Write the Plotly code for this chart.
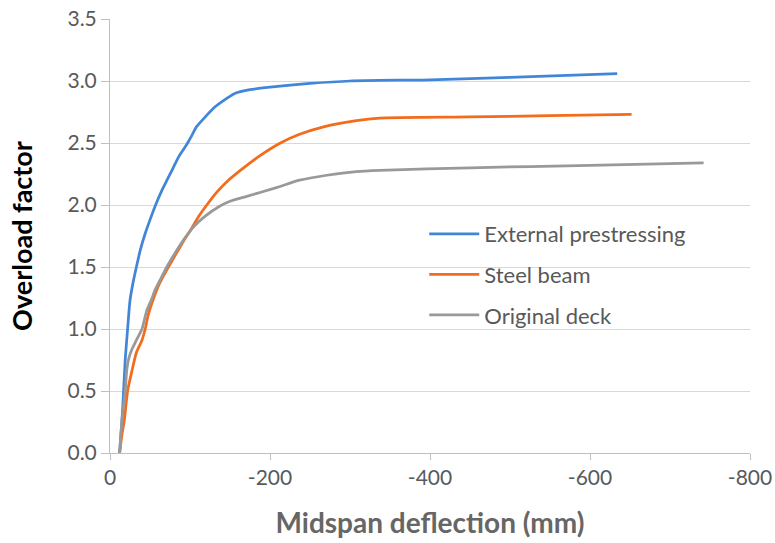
import plotly.graph_objects as go

# Load-deflection curves (deflection in mm, downward negative)
ext_x = [-12, -15, -17, -19, -22, -25, -29, -33, -38, -44, -50, -57, -65, -72, -79, -86, -92,
         -97, -103, -108, -119, -131, -146, -156, -175, -200, -250, -300, -400, -500, -634]
ext_y = [0.0, 0.27, 0.5, 0.75, 1.0, 1.23, 1.38, 1.5, 1.64, 1.77, 1.88, 2.0, 2.12, 2.21, 2.3, 2.39, 2.45,
         2.5, 2.57, 2.63, 2.71, 2.79, 2.86, 2.9, 2.93, 2.95, 2.98, 3.0, 3.01, 3.03, 3.06]

steel_x = [-12, -15, -18, -22, -27, -33, -40, -44, -48, -53, -60, -67, -73, -82, -92, -102, -110, -121,
           -133, -148, -167, -188, -213, -237, -267, -308, -337, -450, -550, -652]
steel_y = [0.0, 0.15, 0.27, 0.5, 0.65, 0.81, 0.91, 1.0, 1.12, 1.22, 1.34, 1.43, 1.5, 1.6, 1.71, 1.81, 1.9, 2.0,
           2.1, 2.2, 2.3, 2.4, 2.5, 2.57, 2.63, 2.68, 2.7, 2.71, 2.72, 2.73]

orig_x = [-12, -15, -19, -21, -23, -27, -33, -40, -46, -52, -56, -63, -71, -81, -92, -104, -119, -137,
          -150, -171, -208, -237, -271, -308, -337, -450, -600, -742]
orig_y = [0.0, 0.27, 0.5, 0.67, 0.75, 0.83, 0.91, 1.0, 1.15, 1.24, 1.31, 1.4, 1.5, 1.61, 1.72, 1.82, 1.91, 1.99,
          2.03, 2.07, 2.14, 2.2, 2.24, 2.27, 2.28, 2.3, 2.32, 2.34]

x_ticks = [0, -200, -400, -600, -800]
x_tick_labels = ["0", "-200", "-400", "-600", "-800"]

series = [
    ("External prestressing", ext_x, ext_y, "#4286d8"),
    ("Steel beam", steel_x, steel_y, "#f36c1c"),
    ("Original deck", orig_x, orig_y, "#999999"),
]

fig = go.Figure()
for name, xs, ys, color in series:
    fig.add_trace(go.Scatter(
        x=xs, y=ys, name=name, mode="lines", legendgroup=name,
        line=dict(color=color, width=2.75, shape="spline", smoothing=0.6),
    ))

font_family = "Lato"
fig.update_layout(
    width=775, height=543,
    margin=dict(l=110, r=25, t=19, b=90, autoexpand=False),
    paper_bgcolor="white", plot_bgcolor="white",
    font=dict(family=font_family, color="#595959"),
    showlegend=True,
    legend=dict(
        x=0.491, y=0.553, xanchor="left", yanchor="top",
        bgcolor="rgba(0,0,0,0)", font=dict(size=22, color="#595959"),
        traceorder="grouped", tracegroupgap=9, itemwidth=50,
    ),
)
fig.update_xaxes(
    range=[0, -800], tickvals=x_ticks, ticktext=x_tick_labels,
    showgrid=False, zeroline=False, automargin=False,
    showline=True, linecolor="#bfbfbf", linewidth=1,
    ticks="outside", ticklen=6, tickcolor="#bfbfbf",
    tickfont=dict(size=21, color="#595959"),
    title=dict(text="<b>Midspan deflection (mm)</b>", font=dict(size=28, color="#666666"), standoff=25),
)
fig.update_yaxes(
    range=[0, 3.5], dtick=0.5, tickformat=".1f",
    showgrid=True, gridcolor="#d9d9d9", gridwidth=1, zeroline=False, automargin=False,
    showline=True, linecolor="#bfbfbf", linewidth=1,
    ticks="outside", ticklen=8, tickcolor="#bfbfbf",
    tickfont=dict(size=21, color="#595959"),
    title=dict(text="<b>Overload factor</b>", font=dict(size=27, color="black"), standoff=27),
)

fig.write_html("out.html")
